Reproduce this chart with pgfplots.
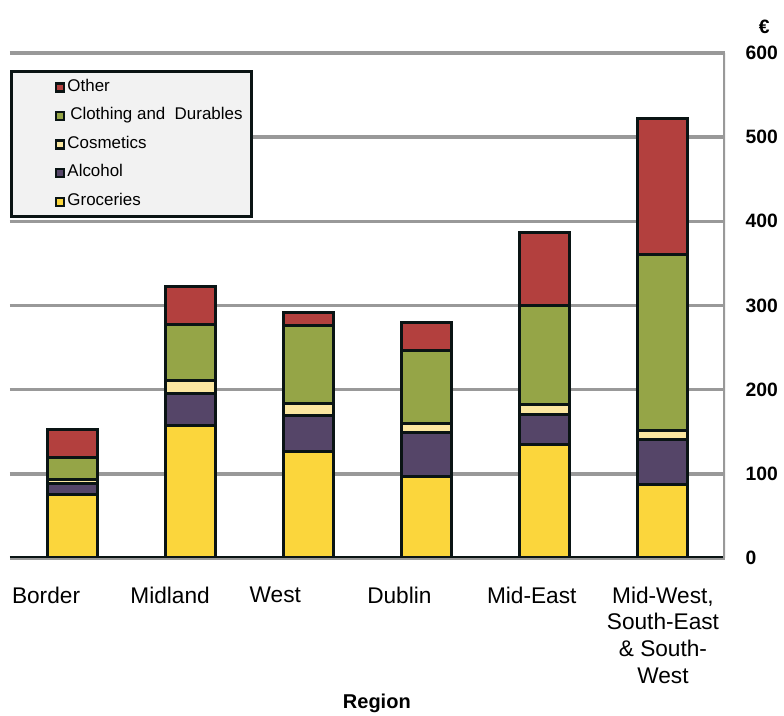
\documentclass[border=0pt]{standalone}
\usepackage{pgfplots}
\pgfplotsset{compat=1.18}
\usepackage{fontspec}
\setmainfont{Liberation Sans}
\definecolor{cGro}{HTML}{FBD63C}
\definecolor{cAlc}{HTML}{554568}
\definecolor{cCos}{HTML}{FBE7A1}
\definecolor{cClo}{HTML}{95A547}
\definecolor{cOth}{HTML}{B3403E}
\definecolor{cOut}{HTML}{0A1414}
\definecolor{cGrid}{HTML}{999999}
\definecolor{cLeg}{HTML}{F2F2F2}
\begin{document}
\begin{tikzpicture}
\begin{axis}[
  name=ax,
  scale only axis,
  width=536.25pt, height=378.75pt,
  xmin=-0.525, xmax=5.525,
  ymin=0, ymax=600,
  ybar stacked,
  bar width=37.5pt,
  xtick={-0.22,0.83,1.72,2.77,3.89,5},
  xticklabels={Border, Midland, West, Dublin, Mid-East, {Mid-West,\\South-East\\\&~South-\\West}},
  xticklabel style={align=center, font=\fontsize{17}{20}\selectfont, anchor=north, yshift=-18pt},
  ytick={0,100,...,600},
  ytick pos=right,
  yticklabel pos=right,
  yticklabel style={anchor=west, xshift=12pt, font=\fontsize{14.5}{16}\selectfont\bfseries},
  /pgf/number format/assume math mode=true,
  major tick length=0pt,
  ymajorgrids,
  grid style={draw=cGrid, line width=2.6pt},
  axis line style={draw=none},
  xlabel={Region},
  xlabel style={at={(axis description cs:0.5,0)}, anchor=center, yshift=-109pt, xshift=7pt, font=\fontsize{15}{17}\selectfont\bfseries},
  ylabel={\texteuro},
  ylabel style={at={(axis description cs:1,1)}, anchor=center, rotate=-90, xshift=29.5pt, yshift=19.5pt, font=\fontsize{14.5}{16}\selectfont\bfseries},
  every axis plot/.append style={draw=cOut, line width=2.25pt},
  legend cell align=left,
  reverse legend,
  legend style={at={(0,0.966)}, anchor=north west, fill=cLeg, draw=cOut, line width=2.25pt,
    inner xsep=5pt, inner ysep=1pt,
    font=\fontsize{12.7}{14}\selectfont,
    nodes={inner xsep=2pt, inner ysep=4.7pt, text height=9pt, text depth=3pt},
    row sep=0pt},
  legend image code/.code={\path (0pt,0pt); \draw[#1, draw=cOut, line width=1.7pt] (27pt,-3.2pt) rectangle (33pt,2.8pt);},
]
\addplot[fill=cGro] coordinates {(0,76) (1,157) (2,127) (3,97) (4,135) (5,87)};
\addplot[fill=cAlc] coordinates {(0,12) (1,39) (2,42) (3,52) (4,36) (5,54)};
\addplot[fill=cCos] coordinates {(0,5) (1,15) (2,15) (3,11) (4,11) (5,10)};
\addplot[fill=cClo] coordinates {(0,26) (1,66) (2,92) (3,87) (4,118) (5,209)};
\addplot[fill=cOth] coordinates {(0,34) (1,45) (2,16) (3,33) (4,87) (5,162)};
\legend{Groceries, Alcohol, Cosmetics, {\,Clothing and\ \ Durables}, Other}
\draw[cGrid, line width=2.6pt] (rel axis cs:1,0) -- (rel axis cs:1,1);
\draw[cOut, line width=3pt] (rel axis cs:0,0) -- (rel axis cs:1,0);
\end{axis}
\pgfresetboundingbox
\path[use as bounding box] ([xshift=-7.5pt,yshift=-118.5pt]ax.south west) rectangle ([xshift=44.25pt,yshift=39.75pt]ax.north east);
\end{tikzpicture}
\end{document}
